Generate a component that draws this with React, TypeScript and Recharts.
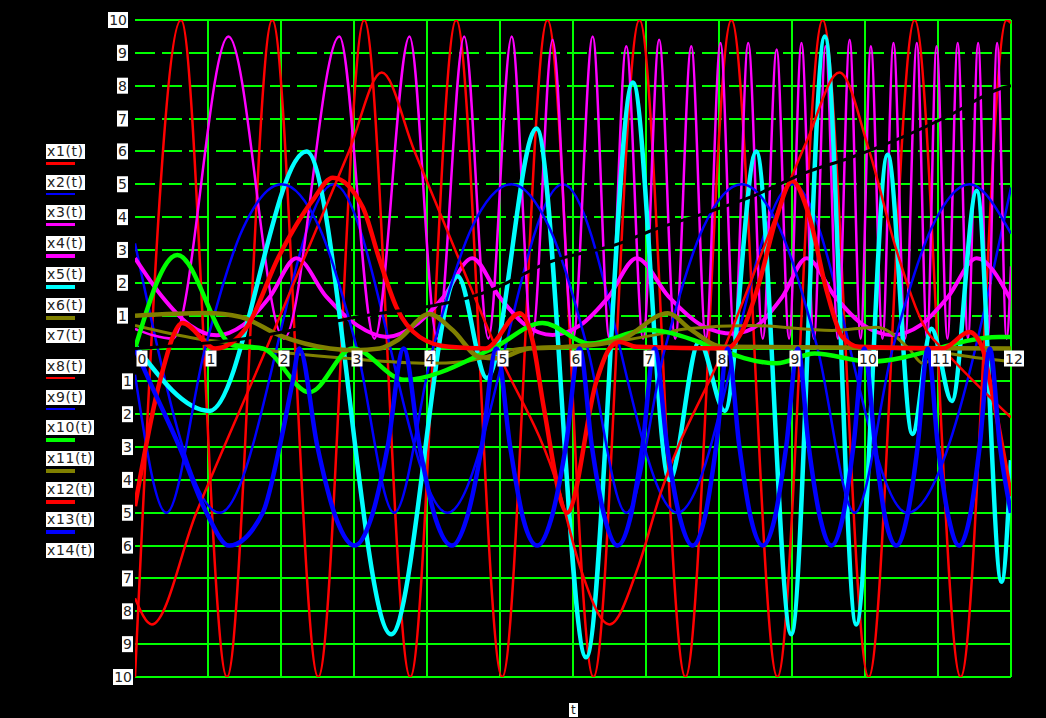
import { CartesianGrid, Line, LineChart, XAxis, YAxis } from "recharts";

// sample positions (t) and values, one pair per series
const x1T = [0, 0.63, 1.26, 1.88, 2.51, 3.14, 3.77, 4.4, 5.03, 5.65, 6.28, 6.91, 7.54, 8.17, 8.8, 9.42, 10.05, 10.68, 11.31, 11.94, 12];
const x1V = [-10, 10, -10, 10, -10, 10, -10, 10, -10, 10, -10, 10, -10, 10, -10, 10, -10, 10, -10, 10, 9.9];

const x2T = [0, 1.16, 2.72, 4.28, 5.86, 7.43, 9.01, 10.58, 12];
const x2V = [3.2, -5, 5, -5, 5, -5, 5, -5, 4.9];

const x3T = [0, 0.52, 1.28, 2.04, 2.8, 3.28, 3.76, 4.14, 4.51, 4.84, 5.16, 5.44, 5.72, 6.0, 6.27, 6.5, 6.73, 6.96, 7.18, 7.4, 7.62, 7.82, 8.02, 8.21, 8.4, 8.6, 8.79, 8.96, 9.13, 9.3, 9.46, 9.63, 9.79, 9.94, 10.08, 10.24, 10.39, 10.55, 10.71, 10.85, 10.98, 11.13, 11.27, 11.41, 11.55, 11.68, 11.81, 11.94, 12];
const x3V = [0.6, 0.3, 9.5, 0.3, 9.5, 0.3, 9.5, 0.3, 9.5, 0.3, 9.5, 0.3, 9.4, 0.3, 9.5, 0.3, 9.2, 0.3, 9.4, 0.3, 9.2, 0.3, 9.3, 0.3, 9.3, 0.3, 9.1, 0.3, 9.3, 0.3, 9.2, 0.3, 9.4, 0.3, 9.2, 0.3, 9.3, 0.3, 9.3, 0.3, 9.2, 0.3, 9.3, 0.3, 9.3, 0.3, 9.3, 0.3, 2.5];

const x4T = [0, 0.37, 0.75, 1.12, 1.48, 1.85, 2.21, 2.62, 3.04, 3.45, 3.84, 4.23, 4.62, 4.99, 5.35, 5.72, 6.1, 6.49, 6.87, 7.31, 7.76, 8.2, 8.53, 8.87, 9.2, 9.59, 9.98, 10.37, 10.76, 11.14, 11.53, 12];
const x4V = [2.75, 1.58, 0.71, 0.4, 0.71, 1.58, 2.75, 1.58, 0.71, 0.35, 0.71, 1.58, 2.75, 1.58, 0.71, 0.41, 0.71, 1.58, 2.75, 1.58, 0.71, 0.45, 0.71, 1.58, 2.75, 1.58, 0.71, 0.41, 0.71, 1.58, 2.75, 1.47];

const x5T = [0, 1.02, 2.35, 3.51, 4.42, 4.82, 5.5, 6.18, 6.82, 7.32, 7.73, 8.08, 8.51, 8.99, 9.45, 9.88, 10.31, 10.65, 10.91, 11.19, 11.53, 11.87, 12];
const x5V = [0.1, -1.9, 6.0, -8.7, 2.2, -0.9, 6.7, -9.4, 8.1, -4.0, 0.2, -1.9, 6.0, -8.7, 9.5, -8.4, 5.9, -2.6, 0.6, -1.6, 4.8, -7.1, -3.4];

const x6T = [0, 0.85, 1.29, 1.97, 2.9, 4.03, 4.5, 5.27, 6.18, 7.09, 7.56, 8.44, 9.55, 10.16, 10.6, 10.79, 11.07, 11.53, 12];
const x6V = [0.7, 0.3, 0.17, -0.1, -0.3, -0.45, -0.4, 0.0, 0.1, 0.4, 0.6, 0.7, 0.55, 0.65, 0.0, -0.45, -0.15, -0.28, -0.4];

const x8T = [0, 0.23, 0.84, 1.8, 2.93, 3.38, 3.83, 4.95, 5.82, 6.09, 6.5, 6.9, 7.2, 8.07, 9.2, 9.65, 10.06, 10.43, 10.84, 11.06, 12];
const x8V = [-7.6, -8.4, -5, 0, 6, 8.4, 6, 0, -4.4, -6.6, -8.4, -6.6, -4.4, 0, 6.3, 8.4, 6, 3, 0.56, 0, -2.1];

const x9T = [0, 0.43, 0.96, 1.48, 2.01, 2.53, 3.04, 3.55, 4.08, 4.61, 5.16, 5.68, 6.2, 6.73, 7.26, 7.78, 8.31, 8.83, 9.35, 9.86, 10.38, 10.91, 11.43, 12];
const x9V = [-0.8, -5, 0, 3.66, 5, 3.66, 0, -5, 0, 3.66, 5, 3.66, 0, -5, 0, 3.66, 5, 3.66, 0, -5, 0, 3.66, 5, 3.5];

const x10T = [0, 0.58, 1.34, 1.75, 2.39, 2.98, 3.69, 4.9, 5.58, 6.23, 7.01, 8.79, 9.31, 10.06, 11.84, 12];
const x10V = [0, 2.85, 0.1, 0.0, -1.33, 0.0, -0.95, 0.0, 0.78, 0.15, 0.56, -0.45, -0.15, -0.4, 0.35, 0.35];

const x11T = [0, 0.97, 1.45, 1.98, 2.67, 3.01, 3.35, 3.6, 4.03, 4.35, 4.72, 4.95, 5.4, 5.95, 6.64, 7.3, 7.6, 8.05, 12];
const x11V = [1.0, 1.08, 0.96, 0.4, 0.0, -0.05, 0.0, 0.26, 1.05, 0.56, -0.26, -0.3, 0.0, 0.05, 0.25, 1.07, 0.6, 0.05, 0.0];

const x12T = [0, 0.34, 0.65, 1.1, 1.53, 1.97, 2.43, 2.71, 3.12, 3.35, 3.58, 3.9, 4.3, 4.8, 5.27, 5.45, 5.6, 5.92, 6.32, 6.5, 6.64, 6.87, 8.1, 8.32, 8.55, 8.79, 9.0, 9.24, 9.47, 9.69, 9.92, 11.06, 11.43, 11.61, 11.71, 12];
const x12V = [-4.8, -1.0, 0.78, 0.0, 0.65, 2.8, 4.5, 5.2, 4.3, 2.7, 1.26, 0.35, 0.05, 0.0, 1.07, 0.2, -1.8, -5.0, -1.0, 0.0, 0.2, 0.05, 0.0, 0.55, 2.0, 4.0, 5.1, 4.0, 1.8, 0.35, 0.05, 0.0, 0.5, 0.0, -1.0, -4.5];

const x13T = [0, 0.2, 0.61, 0.98, 1.29, 1.75, 1.98, 2.16, 2.25, 2.5, 2.76, 3.01, 3.23, 3.46, 3.68, 3.9, 4.12, 4.34, 4.54, 4.75, 4.95, 5.14, 5.32, 5.51, 5.7, 5.9, 6.09, 6.26, 6.44, 6.61, 6.78, 6.95, 7.12, 7.29, 7.47, 7.64, 7.8, 7.96, 8.12, 8.28, 8.44, 8.6, 8.76, 8.92, 9.08, 9.23, 9.39, 9.54, 9.69, 9.84, 9.99, 10.14, 10.28, 10.43, 10.57, 10.72, 10.86, 11.0, 11.15, 11.29, 11.43, 11.57, 11.71, 11.85, 12];
const x13V = [0, -1, -3, -5, -6, -5, -3, -1, 0,
  -3, -5.2, -6, -5.2, -3, 0,
  -3, -5.2, -6, -5.2, -3, 0,
  -3, -5.2, -6, -5.2, -3, 0,
  -3, -5.2, -6, -5.2, -3, 0,
  -3, -5.2, -6, -5.2, -3, 0,
  -3, -5.2, -6, -5.2, -3, 0,
  -3, -5.2, -6, -5.2, -3, 0,
  -3, -5.2, -6, -5.2, -3, 0,
  -3, -5.2, -6, -5.2, -3, 0,
  -3, -5];

const x14T = [0, 1.5, 2.9, 4.9, 5.64, 6.64, 7.09, 7.78, 8.42, 9.24, 9.79, 11.16, 11.84, 12];
const x14V = [0, 0.3, 0.9, 1.8, 2.6, 3.2, 3.6, 4.1, 4.6, 5.4, 5.8, 7.1, 7.9, 8.0];

const xTicks = [0, 1, 2, 3, 4, 5, 6, 7, 8, 9, 10, 11, 12];
const yTicks = [-10, -9, -8, -7, -6, -5, -4, -3, -2, -1, 0, 1, 2, 3, 4, 5, 6, 7, 8, 9, 10];

const zip = (ts: number[], vs: number[]) => ts.map((t, i) => ({ t, v: vs[i] }));

const series = [
  { name: "x1(t)", data: zip(x1T, x1V), color: "#ff0000", width: 2.5 },
  { name: "x2(t)", data: zip(x2T, x2V), color: "#0000ff", width: 2.5 },
  { name: "x3(t)", data: zip(x3T, x3V), color: "#ff00ff", width: 2.5 },
  { name: "x4(t)", data: zip(x4T, x4V), color: "#ff00ff", width: 4 },
  { name: "x5(t)", data: zip(x5T, x5V), color: "#00ffff", width: 4.5 },
  { name: "x6(t)", data: zip(x6T, x6V), color: "#808000", width: 3 },
  { name: "x7(t)", data: null, color: "#000000", width: 2 },
  { name: "x8(t)", data: zip(x8T, x8V), color: "#ff0000", width: 2.5 },
  { name: "x9(t)", data: zip(x9T, x9V), color: "#0000ff", width: 2.5 },
  { name: "x10(t)", data: zip(x10T, x10V), color: "#00ff00", width: 4.5 },
  { name: "x11(t)", data: zip(x11T, x11V), color: "#808000", width: 4.5 },
  { name: "x12(t)", data: zip(x12T, x12V), color: "#ff0000", width: 4.5 },
  { name: "x13(t)", data: zip(x13T, x13V), color: "#0000ff", width: 4.5 },
  { name: "x14(t)", data: zip(x14T, x14V), color: "#000000", width: 3 },
];

const FONT = "DejaVu Sans";
const ZERO_Y = 348.5;

function YTick(props: any) {
  const { y, payload } = props;
  const v = payload.value;
  if (v === 0) return <g />;
  const s = String(Math.abs(v));
  const right = v > 0 ? 128 : 133;
  const w = s.length * 9 + 2;
  return (
    <g>
      <rect x={right - w} y={y - 8} width={w} height={16} fill="#fff" />
      <text x={right - 1} y={y} dy="0.36em" textAnchor="end" fontSize={14} fontFamily={FONT} fill="#222">
        {s}
      </text>
    </g>
  );
}

function XTick(props: any) {
  const { x, payload } = props;
  const s = String(payload.value);
  const cx = payload.value === 0 ? x + 7 : x + 3;
  const w = s.length * 9 + 2;
  return (
    <g>
      <rect x={cx - w / 2} y={ZERO_Y + 2} width={w} height={16} fill="#fff" />
      <text x={cx} y={ZERO_Y + 10} dy="0.36em" textAnchor="middle" fontSize={14} fontFamily={FONT} fill="#222">
        {s}
      </text>
    </g>
  );
}

// grid lines above zero look broken up in the original
function HLine(props: any) {
  const { x1, x2, y1, y2 } = props;
  const dashed = y1 > 25 && y1 < 340;
  return (
    <line x1={x1} x2={x2} y1={Math.round(y1)} y2={Math.round(y2)} stroke="#00ff00" strokeWidth={1.5}
      shapeRendering="crispEdges" strokeDasharray={dashed ? "20 7" : undefined} />
  );
}

function VLine(props: any) {
  const { x1, x2, y1, y2 } = props;
  if (x1 < 140) return <g />;
  return <line x1={Math.round(x1)} x2={Math.round(x2)} y1={y1} y2={y2} stroke="#00ff00" strokeWidth={1.5} shapeRendering="crispEdges" />;
}

export default function App() {
  return (
    <div style={{ position: "absolute", left: 0, top: 0, width: 1046, height: 718, background: "#000", overflow: "hidden" }}>
      <LineChart width={1046} height={718} margin={{ top: 20, right: 35, bottom: 11, left: 75 }}>
        <CartesianGrid horizontal={HLine} vertical={VLine} />
        <XAxis
          type="number"
          dataKey="t"
          domain={[0, 12]}
          ticks={xTicks}
          allowDataOverflow
          axisLine={false}
          tickLine={false}
          tick={XTick}
          height={30}
        />
        <YAxis
          type="number"
          domain={[-10, 10]}
          ticks={yTicks}
          interval={0}
          allowDataOverflow
          axisLine={false}
          tickLine={false}
          tick={YTick}
          width={60}
        />
        {series
          .filter((s) => s.data)
          .map((s) => (
            <Line
              key={s.name}
              data={s.data as any}
              dataKey="v"
              name={s.name}
              type="monotone"
              stroke={s.color}
              strokeWidth={s.width}
              dot={false}
              activeDot={false}
              isAnimationActive={false}
            />
          ))}
      </LineChart>

      {series.map((s, i) => (
        <div key={s.name} style={{ position: "absolute", left: 46, top: 142 + i * 30.7, width: 60 }}>
          <span style={{ background: "#fff", color: "#222", fontFamily: FONT, fontSize: 14, lineHeight: "15px", letterSpacing: 0.6, padding: "0 1px", display: "inline-block" }}>
            {s.name}
          </span>
          <div style={{ marginTop: 2, width: 29, height: s.width >= 3 ? 4 : 2.5, background: s.color }} />
        </div>
      ))}

      <div style={{ position: "absolute", left: 569, top: 703, background: "#fff", color: "#222", fontFamily: FONT, fontSize: 12, lineHeight: "14px", padding: "0 2px" }}>
        t
      </div>
    </div>
  );
}
